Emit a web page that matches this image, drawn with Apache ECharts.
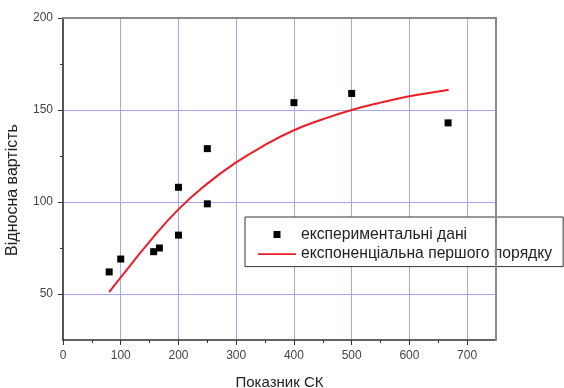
<!DOCTYPE html>
<html>
<head>
<meta charset="utf-8">
<script src="https://cdn.jsdelivr.net/npm/echarts@6/dist/echarts.min.js"></script>
<style>
    html, body { margin: 0; padding: 0; background: #fff; }
    #chart { width: 564px; height: 388px; }
</style>
</head>
<body>
<div id="chart"></div>
<script>
// експериментальні точки
const expX = [80, 100, 157, 167, 200, 200, 250, 250, 400, 500, 667]
const expY = [62, 69, 73, 75, 82, 108, 99, 129, 154, 159, 143]

// крива
const fitX = [80, 100, 150, 200, 250, 300, 350, 400, 450, 500, 550, 600, 650, 668]
const fitY = [51, 59, 78.5, 96, 110, 121.5, 131, 139, 145, 150, 154, 157.5, 160, 161]

const xMajor = [0, 100, 200, 300, 400, 500, 600, 700]
const xMinor = [50, 150, 250, 350, 450, 550, 650]
const yMajor = [50, 100, 150, 200]
const yMinor = [75, 125, 175]

const seriesNames = ['експериментальні дані', 'експоненціальна першого порядку']

const font = 'Liberation Sans, Arial, sans-serif'
const gridBlue = '#a4a4f4'
const red = '#ee1c25'

const chart = echarts.init(document.getElementById('chart'))

// рамка зверху і справа
const borderAxis = {
    type: 'value',
    axisLine: { show: true, onZero: false, lineStyle: { color: '#8a8a8a', width: 2 } },
    axisTick: { show: false },
    axisLabel: { show: false },
    splitLine: { show: false },
    z: 5
}

const option = {
    animation: false,
    backgroundColor: '#fff',
    textStyle: { fontFamily: font },
    grid: {
        left: 63,
        right: 68,
        top: 18,
        bottom: 48,
        outerBoundsMode: 'none'
    },
    legend: {
        orient: 'vertical',
        left: 245,
        top: 217,
        itemWidth: 38,
        itemHeight: 7,
        itemGap: 3.6,
        padding: [9.5, 11, 4.5, 13],
        backgroundColor: '#fff',
        borderColor: '#333',
        borderWidth: 1,
        textStyle: { fontSize: 15.7, color: '#222', fontFamily: font },
        data: [
            { name: seriesNames[0], icon: 'path://M0,0h10v10h-10z', itemStyle: { color: '#000' } },
            { name: seriesNames[1], icon: 'path://M0,0h40v2h-40z', itemStyle: { color: red } }
        ]
    },
    xAxis: [
        {
            type: 'value',
            min: 0,
            max: 750,
            interval: 50,
            name: 'Показник СК',
            nameLocation: 'middle',
            nameGap: 35,
            nameTextStyle: { fontSize: 15, color: '#222' },
            axisLine: { show: true, lineStyle: { color: '#333', width: 1.5 } },
            axisTick: { show: true, customValues: xMajor, length: 5, lineStyle: { color: '#333' } },
            axisLabel: { customValues: xMajor, fontSize: 12, color: '#444', margin: 10 },
            splitLine: { show: true, lineStyle: { color: gridBlue, width: 1 } }
        },
        {
            type: 'value',
            min: 0,
            max: 750,
            interval: 50,
            position: 'bottom',
            axisLine: { show: false },
            axisTick: { show: true, customValues: xMinor, length: 3, lineStyle: { color: '#333' } },
            axisLabel: { show: false },
            splitLine: { show: false }
        },
        Object.assign({ min: 0, max: 750, position: 'top' }, borderAxis)
    ],
    yAxis: [
        {
            type: 'value',
            min: 25,
            max: 200,
            interval: 25,
            name: 'Відносна вартість',
            nameLocation: 'middle',
            nameGap: 42,
            nameTextStyle: { fontSize: 16, color: '#222', padding: [0, 22, 0, 0] },
            axisLine: { show: true, lineStyle: { color: '#555', width: 2 } },
            axisTick: { show: true, customValues: yMajor, length: 5, lineStyle: { color: '#333' } },
            axisLabel: { customValues: yMajor, fontSize: 12, color: '#444', margin: 10 },
            splitLine: { show: true, lineStyle: { color: gridBlue, width: 1 } }
        },
        {
            type: 'value',
            min: 25,
            max: 200,
            interval: 25,
            position: 'left',
            axisLine: { show: false },
            axisTick: { show: true, customValues: yMinor, length: 3, lineStyle: { color: '#333' } },
            axisLabel: { show: false },
            splitLine: { show: false }
        },
        Object.assign({ min: 25, max: 200, position: 'right' }, borderAxis)
    ],
    series: [
        {
            name: seriesNames[0],
            type: 'scatter',
            symbol: 'rect',
            symbolSize: 7,
            itemStyle: { color: '#000', opacity: 1 },
            data: expX.map((x, i) => [x, expY[i]]),
            z: 3
        },
        {
            name: seriesNames[1],
            type: 'line',
            smooth: true,
            symbol: 'none',
            lineStyle: { color: red, width: 2 },
            itemStyle: { color: red },
            data: fitX.map((x, i) => [x, fitY[i]]),
            z: 2
        }
    ]
}

chart.setOption(option)
</script>
</body>
</html>
